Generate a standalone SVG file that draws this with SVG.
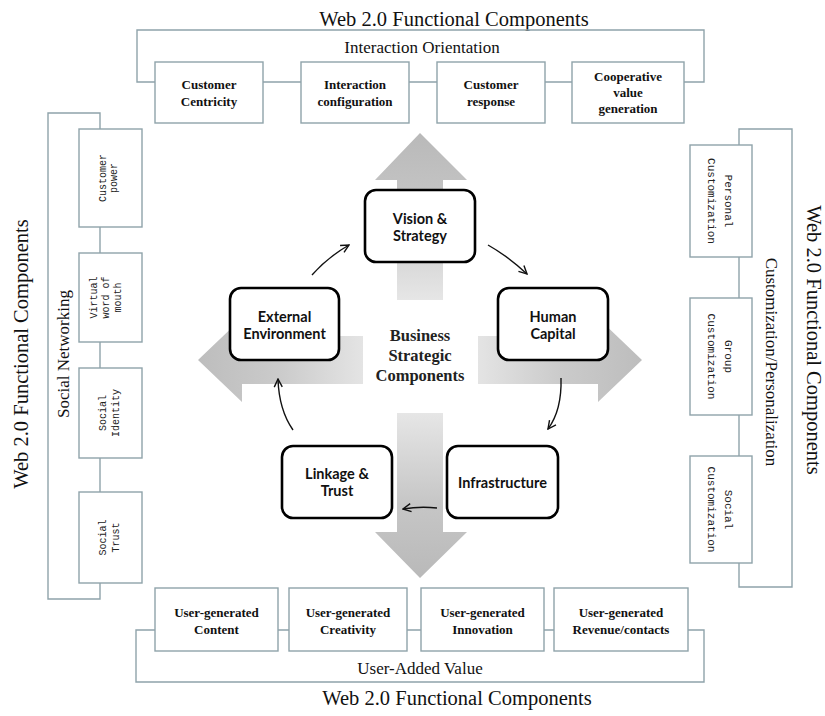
<svg xmlns="http://www.w3.org/2000/svg" width="825" height="716" viewBox="0 0 825 716">
<defs>
<style>
.br{fill:none;stroke:#8fa3aa;stroke-width:1.4}
.fb{fill:#fff;stroke:#8fa3aa;stroke-width:1.4}
.sb{fill:#fff;stroke:#000;stroke-width:2.6}
.ttl{font-family:"Liberation Serif",serif;font-size:20.5px;fill:#111}
.grp{font-family:"Liberation Serif",serif;font-size:17px;fill:#111}
.lbl{font-family:"Liberation Serif",serif;font-size:13px;font-weight:bold;fill:#111;text-anchor:middle}
.mono{font-family:"Liberation Mono",monospace;fill:#222;text-anchor:middle}
.cl{font-family:Lato,"Liberation Sans",sans-serif;font-size:14.5px;font-weight:bold;fill:#111;text-anchor:middle}
.bsc{font-family:"Liberation Serif",serif;font-size:16.5px;font-weight:bold;fill:#222;text-anchor:middle}
.ca{fill:none;stroke:#111;stroke-width:1.4;marker-end:url(#ah)}
</style>
<marker id="ah" viewBox="0 0 10 10" refX="9" refY="5" markerWidth="10" markerHeight="10" markerUnits="userSpaceOnUse" orient="auto">
<path d="M1,1 L9,5 L1,9" fill="none" stroke="#111" stroke-width="1.4"/>
</marker>
<linearGradient id="gUp" x1="0" y1="0" x2="0" y2="1"><stop offset="0" stop-color="#b9b9b9"/><stop offset="0.45" stop-color="#c6c6c6"/><stop offset="1" stop-color="#e6e6e6"/></linearGradient>
<linearGradient id="gDn" x1="0" y1="1" x2="0" y2="0"><stop offset="0" stop-color="#b9b9b9"/><stop offset="0.45" stop-color="#c6c6c6"/><stop offset="1" stop-color="#e6e6e6"/></linearGradient>
<linearGradient id="gLf" x1="0" y1="0" x2="1" y2="0"><stop offset="0" stop-color="#bdbdbd"/><stop offset="0.5" stop-color="#cbcbcb"/><stop offset="1" stop-color="#e4e4e4"/></linearGradient>
<linearGradient id="gRt" x1="1" y1="0" x2="0" y2="0"><stop offset="0" stop-color="#bdbdbd"/><stop offset="0.5" stop-color="#cbcbcb"/><stop offset="1" stop-color="#e4e4e4"/></linearGradient>
</defs>
<rect width="825" height="716" fill="#fff"/>

<g id="titles">
<text class="ttl" x="454" y="26" text-anchor="middle">Web 2.0 Functional Components</text>
<text class="ttl" x="457" y="705" text-anchor="middle">Web 2.0 Functional Components</text>
<text class="ttl" transform="translate(28,354) rotate(-90)" text-anchor="middle">Web 2.0 Functional Components</text>
<text class="ttl" transform="translate(807,340) rotate(90)" text-anchor="middle">Web 2.0 Functional Components</text>
</g>

<g id="bigarrows">
<polygon points="420,133 467,180 443,180 443,300 397,300 397,180 375,180" fill="url(#gUp)"/>
<polygon points="420,578 467,532 443,532 443,413 397,413 397,532 375,532" fill="url(#gDn)"/>
<polygon points="198,360 242,318 242,336 363,336 363,384 242,384 242,402" fill="url(#gLf)"/>
<polygon points="642,360 598,318 598,336 478,336 478,384 598,384 598,402" fill="url(#gRt)"/>
</g>

<g id="connectors">
<path class="br" d="M155,82 H137 V30 H704 V82 H684 M263,82 H301 M409,82 H437 M545,82 H572"/>
<path class="br" d="M155,630 H136 V682 H704 V630 H688 M278,630 H289 M407,630 H421 M544,630 H554"/>
<path class="br" d="M100,129 V113 H48 V599 H100 V583 M100,227 V253 M100,342 V368 M100,458 V492"/>
<path class="br" d="M739,145 V129 H792 V587 H739 V563 M739,257 V298 M739,415 V456"/>
<path class="ca" d="M312,275 Q328,257 349,245"/>
<path class="ca" d="M488,245 Q509,257 527,274"/>
<path class="ca" d="M561,378 Q562,410 548,429"/>
<path class="ca" d="M437,508 Q420,506 403,509"/>
<path class="ca" d="M293,430 Q279,410 278,379"/>
</g>

<g id="group-labels">
<text class="grp" x="422" y="53" text-anchor="middle">Interaction Orientation</text>
<text class="grp" x="420" y="674" text-anchor="middle">User-Added Value</text>
<text class="grp" transform="translate(69,354) rotate(-90)" text-anchor="middle">Social Networking</text>
<text class="grp" transform="translate(766,362) rotate(90)" text-anchor="middle">Customization/Personalization</text>
</g>

<g id="customer-centricity"><rect class="fb" x="155" y="62" width="108" height="61"/><text class="lbl" x="209" y="89">Customer</text><text class="lbl" x="209" y="106">Centricity</text></g>
<g id="interaction-configuration"><rect class="fb" x="301" y="62" width="108" height="61"/><text class="lbl" x="355" y="89">Interaction</text><text class="lbl" x="355" y="106">configuration</text></g>
<g id="customer-response"><rect class="fb" x="437" y="62" width="108" height="61"/><text class="lbl" x="491" y="89">Customer</text><text class="lbl" x="491" y="106">response</text></g>
<g id="cooperative-value"><rect class="fb" x="572" y="62" width="112" height="61"/><text class="lbl" x="628" y="81">Cooperative</text><text class="lbl" x="628" y="97">value</text><text class="lbl" x="628" y="113">generation</text></g>

<g id="ug-content"><rect class="fb" x="155" y="588" width="123" height="63"/><text class="lbl" x="216.5" y="617">User-generated</text><text class="lbl" x="216.5" y="634">Content</text></g>
<g id="ug-creativity"><rect class="fb" x="289" y="588" width="118" height="63"/><text class="lbl" x="348" y="617">User-generated</text><text class="lbl" x="348" y="634">Creativity</text></g>
<g id="ug-innovation"><rect class="fb" x="421" y="588" width="123" height="63"/><text class="lbl" x="482.5" y="617">User-generated</text><text class="lbl" x="482.5" y="634">Innovation</text></g>
<g id="ug-revenue"><rect class="fb" x="554" y="588" width="134" height="63"/><text class="lbl" x="621" y="617">User-generated</text><text class="lbl" x="621" y="634">Revenue/contacts</text></g>

<g id="customer-power"><rect class="fb" x="79" y="129" width="63" height="98"/><text class="mono" font-size="10" transform="translate(106,178) rotate(-90)">Customer</text><text class="mono" font-size="10" transform="translate(117,178) rotate(-90)">power</text></g>
<g id="virtual-wom"><rect class="fb" x="79" y="253" width="63" height="89"/><text class="mono" font-size="10" transform="translate(97,297.5) rotate(-90)">Virtual</text><text class="mono" font-size="10" transform="translate(109,297.5) rotate(-90)">word of</text><text class="mono" font-size="10" transform="translate(121,297.5) rotate(-90)">mouth</text></g>
<g id="social-identity"><rect class="fb" x="79" y="368" width="63" height="90"/><text class="mono" font-size="10" transform="translate(106,413) rotate(-90)">Social</text><text class="mono" font-size="10" transform="translate(119,413) rotate(-90)">Identity</text></g>
<g id="social-trust"><rect class="fb" x="79" y="492" width="63" height="91"/><text class="mono" font-size="10" transform="translate(106,537.5) rotate(-90)">Social</text><text class="mono" font-size="10" transform="translate(119,537.5) rotate(-90)">Trust</text></g>

<g id="personal-customization"><rect class="fb" x="690" y="145" width="62" height="112"/><text class="mono" font-size="11" transform="translate(725,201) rotate(90)">Personal</text><text class="mono" font-size="11" transform="translate(708,201) rotate(90)">Customization</text></g>
<g id="group-customization"><rect class="fb" x="690" y="298" width="62" height="117"/><text class="mono" font-size="11" transform="translate(725,356.5) rotate(90)">Group</text><text class="mono" font-size="11" transform="translate(708,356.5) rotate(90)">Customization</text></g>
<g id="social-customization"><rect class="fb" x="690" y="456" width="62" height="107"/><text class="mono" font-size="11" transform="translate(725,509.5) rotate(90)">Social</text><text class="mono" font-size="11" transform="translate(708,509.5) rotate(90)">Customization</text></g>

<g id="vision-strategy"><rect class="sb" x="365" y="190" width="110" height="72" rx="11"/><text class="cl" x="420" y="224">Vision &amp;</text><text class="cl" x="420" y="241">Strategy</text></g>
<g id="external-environment"><rect class="sb" x="230" y="288" width="109" height="72" rx="11"/><text class="cl" x="284.5" y="322">External</text><text class="cl" x="284.5" y="339">Environment</text></g>
<g id="human-capital"><rect class="sb" x="498" y="288" width="110" height="72" rx="11"/><text class="cl" x="553" y="322">Human</text><text class="cl" x="553" y="339">Capital</text></g>
<g id="linkage-trust"><rect class="sb" x="282" y="446" width="110" height="72" rx="11"/><text class="cl" x="337" y="479">Linkage &amp;</text><text class="cl" x="337" y="496">Trust</text></g>
<g id="infrastructure"><rect class="sb" x="447" y="446" width="111" height="72" rx="11"/><text class="cl" x="502.5" y="488">Infrastructure</text></g>

<g id="business-strategic">
<text class="bsc" x="420" y="341">Business</text>
<text class="bsc" x="420" y="361">Strategic</text>
<text class="bsc" x="420" y="381">Components</text>
</g>
</svg>
